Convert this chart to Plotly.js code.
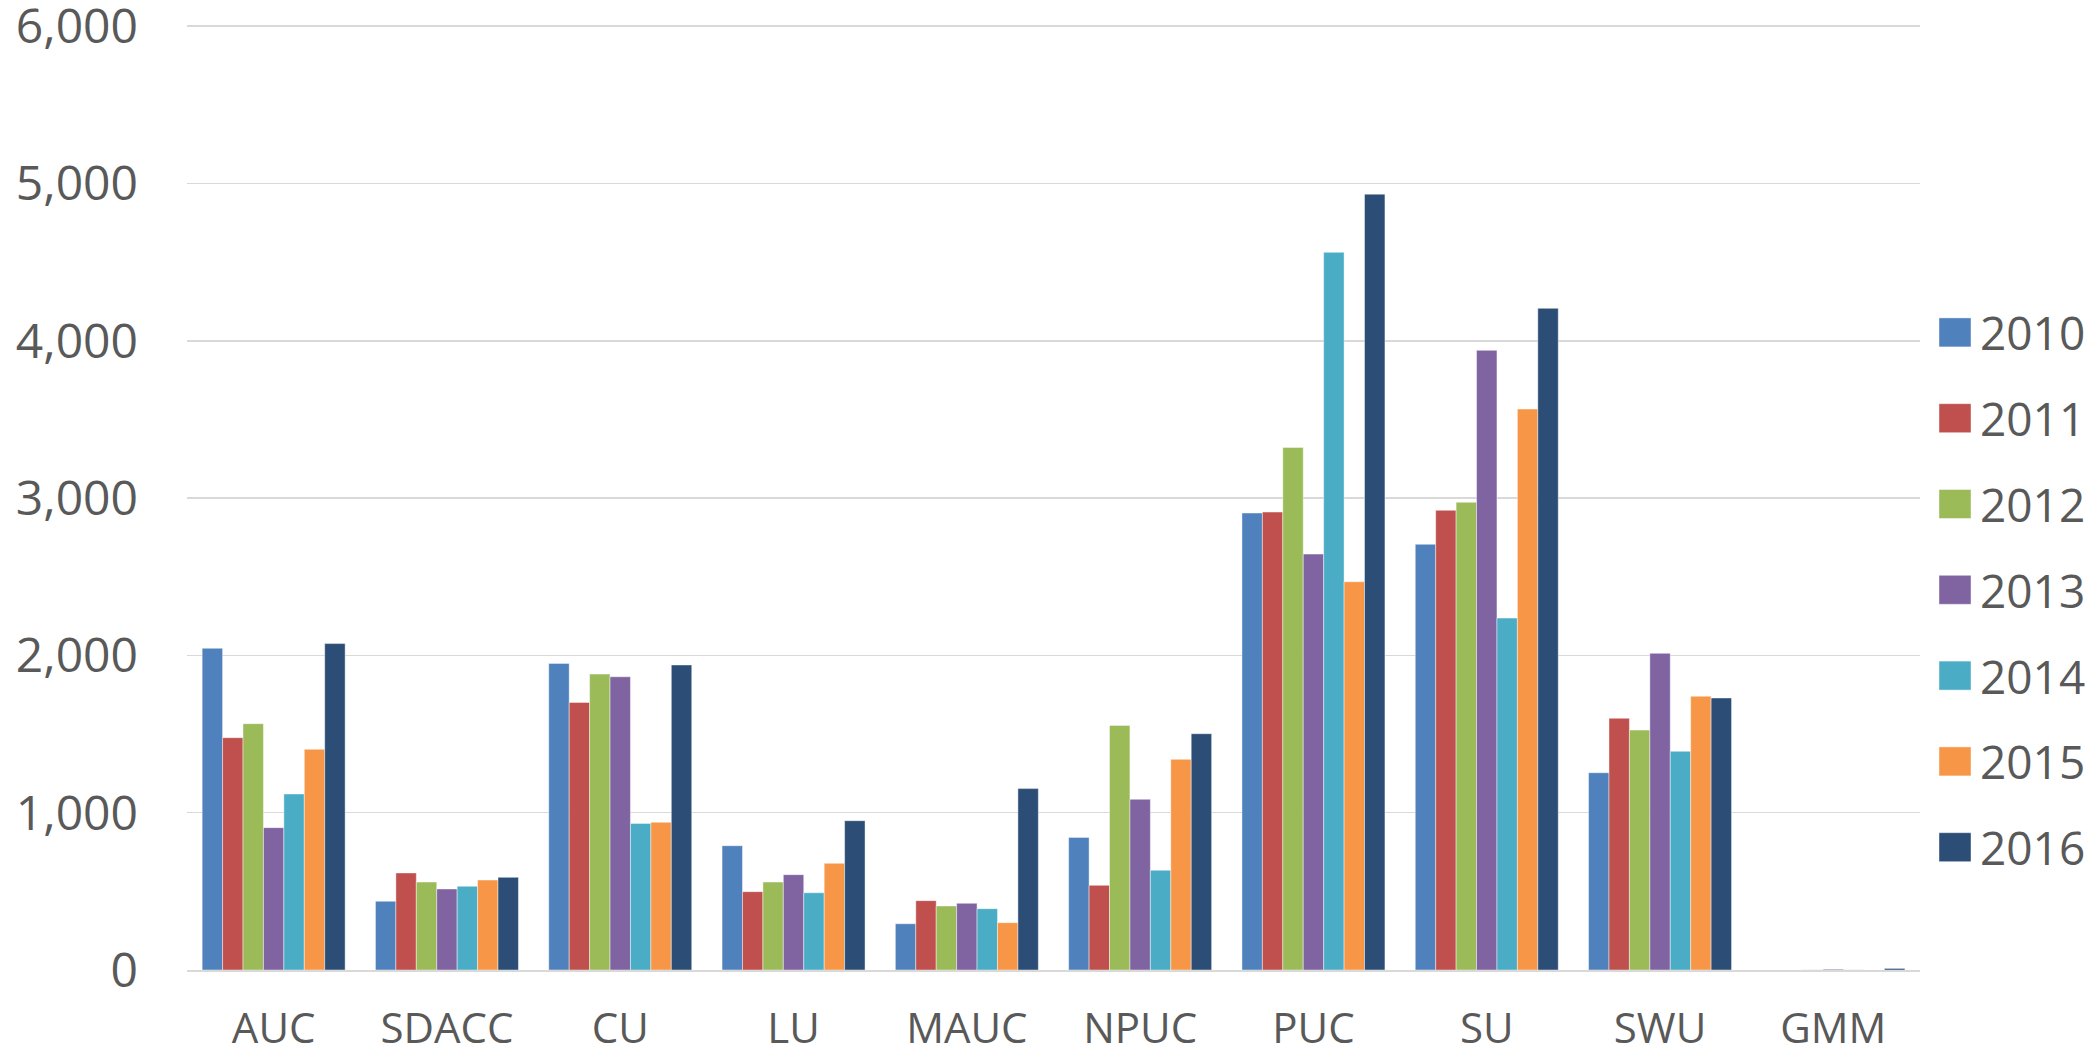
<!DOCTYPE html>
<html>
<head>
<meta charset="utf-8">
<script src="https://cdn.plot.ly/plotly-3.0.1.min.js"></script>
<style>
html,body{margin:0;padding:0;background:#fff;}
#chart{width:2098px;height:1054px;}
g.legendpoints path{d:path("M16,14.5H-16V-14.5H16Z");}
</style>
</head>
<body>
<div id="chart"></div>
<script>
const categories = ["AUC", "SDACC", "CU", "LU", "MAUC", "NPUC", "PUC", "SU", "SWU", "GMM"];
const years = ["2010", "2011", "2012", "2013", "2014", "2015", "2016"];
const v2010 = [2045, 437, 1949, 790, 294, 843, 2905, 2706, 1254, 0];
const v2011 = [1477, 617, 1701, 498, 441, 538, 2911, 2922, 1600, 0];
const v2012 = [1566, 559, 1881, 559, 407, 1555, 3322, 2973, 1525, 1];
const v2013 = [905, 515, 1864, 606, 424, 1085, 2644, 3939, 2013, 5];
const v2014 = [1119, 532, 932, 491, 390, 634, 4562, 2237, 1390, 1];
const v2015 = [1403, 572, 939, 678, 301, 1339, 2468, 3566, 1740, 0];
const v2016 = [2075, 589, 1939, 949, 1153, 1502, 4932, 4206, 1729, 10];
const seriesValues = [v2010, v2011, v2012, v2013, v2014, v2015, v2016];
const colors = ["#4F81BD", "#C0504D", "#9BBB59", "#8064A2", "#4BACC6", "#F79646", "#2C4D75"];

const traces = years.map((y, i) => ({
  type: "bar",
  name: y,
  x: categories,
  y: seriesValues[i],
  legendgroup: y,
  marker: {color: colors[i], line: {color: "rgba(255,255,255,0.55)", width: 0.8}},
  hoverinfo: "x+y+name"
}));

const fam = "'Open Sans', 'Noto Sans', sans-serif";

const layout = {
  width: 2098,
  height: 1054,
  margin: {l: 187, r: 178, t: 23, b: 84, pad: 0},
  paper_bgcolor: "#ffffff",
  plot_bgcolor: "#ffffff",
  font: {family: fam, color: "#595959"},
  barmode: "group",
  bargap: 0.175,
  bargroupgap: 0,
  showlegend: true,
  legend: {
    xref: "container", yref: "container",
    x: 1930 / 2098, xanchor: "left",
    y: (1054 - 296) / 1054, yanchor: "top",
    font: {family: fam, color: "#595959", size: 46},
    traceorder: "grouped",
    tracegroupgap: 23,
    itemwidth: 40,
    maxheight: 1000,
    bgcolor: "rgba(0,0,0,0)"
  },
  xaxis: {
    type: "category",
    showgrid: false,
    showline: true,
    linecolor: "#d9d9d9",
    linewidth: 2,
    ticks: "",
    tickfont: {family: fam, color: "#595959", size: 42},
    ticklabelstandoff: 21,
    ticklabeloverflow: "allow",
    fixedrange: true
  },
  yaxis: {
    range: [0, 6020],
    dtick: 1000,
    tick0: 0,
    tickformat: ",",
    showgrid: true,
    gridcolor: "#d9d9d9",
    gridwidth: 1.5,
    zeroline: false,
    showline: false,
    ticks: "",
    tickfont: {family: fam, color: "#595959", size: 48},
    ticklabelstandoff: 48,
    ticklabeloverflow: "allow",
    fixedrange: true
  }
};

function enlargeKeys() {
  // enlarge the legend colour keys to match the reference's square swatches
  document.querySelectorAll("g.legendpoints path").forEach(p => {
    p.setAttribute("d", "M16,14.5H-16V-14.5H16Z");
  });
}

const gdEl = document.getElementById("chart");
Plotly.newPlot(gdEl, traces, layout, {displayModeBar: false, staticPlot: true}).then(gd => {
  enlargeKeys();
  gd.on("plotly_afterplot", enlargeKeys);
  setTimeout(enlargeKeys, 50);
  setTimeout(enlargeKeys, 300);
});
</script>
</body>
</html>
